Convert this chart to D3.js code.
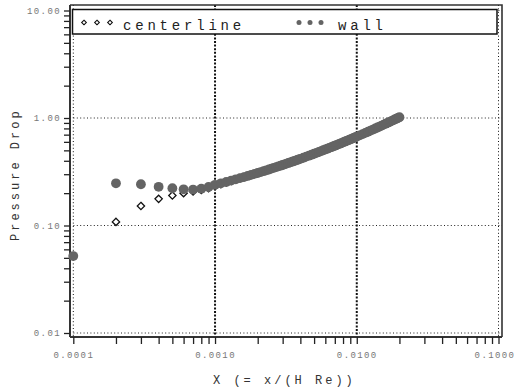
<!DOCTYPE html>
<html>
<head>
<meta charset="utf-8">
<script src="https://cdn.jsdelivr.net/npm/d3@7"></script>
<style>
  body { margin: 0; background: #fff; }
  svg { display: block; }
</style>
</head>
<body>
<script>
// X = x/(H Re) sample positions
const xs = [
  0.0001, 0.0002, 0.0003, 0.0004, 0.0005, 0.0006, 0.0007, 0.0008, 0.0009, 0.0010,
  0.0011, 0.0012, 0.0013, 0.0014, 0.0015, 0.0016, 0.0017, 0.0018, 0.0019, 0.0020,
  0.0021, 0.0022, 0.0023, 0.0024, 0.0025, 0.0026, 0.0027, 0.0028, 0.0029, 0.0030,
  0.0031, 0.0032, 0.0033, 0.0034, 0.0035, 0.0036, 0.0037, 0.0038, 0.0039, 0.0040,
  0.0042, 0.0044, 0.0046, 0.0048, 0.0050, 0.0052, 0.0054, 0.0056, 0.0058, 0.0060,
  0.0062, 0.0064, 0.0066, 0.0068, 0.0070, 0.0072, 0.0074, 0.0076, 0.0078, 0.0080,
  0.0082, 0.0084, 0.0086, 0.0088, 0.0090, 0.0092, 0.0094, 0.0096, 0.0098, 0.0100,
  0.0105, 0.0110, 0.0115, 0.0120, 0.0125, 0.0130, 0.0135, 0.0140, 0.0145, 0.0150,
  0.0155, 0.0160, 0.0165, 0.0170, 0.0175, 0.0180, 0.0185, 0.0190, 0.0195, 0.0200
];

// pressure drop at the wall
const wall = [
  0.052, 0.247, 0.242, 0.229, 0.222, 0.217, 0.216, 0.220, 0.228, 0.239,
  0.247, 0.254, 0.262, 0.269, 0.276, 0.282, 0.289, 0.296, 0.302, 0.308,
  0.314, 0.320, 0.326, 0.332, 0.338, 0.344, 0.349, 0.355, 0.360, 0.366,
  0.371, 0.377, 0.382, 0.387, 0.392, 0.397, 0.402, 0.407, 0.412, 0.417,
  0.427, 0.437, 0.446, 0.456, 0.465, 0.474, 0.483, 0.492, 0.501, 0.510,
  0.518, 0.527, 0.535, 0.544, 0.552, 0.560, 0.569, 0.577, 0.585, 0.593,
  0.601, 0.609, 0.617, 0.625, 0.633, 0.640, 0.648, 0.656, 0.663, 0.671,
  0.690, 0.708, 0.727, 0.745, 0.763, 0.781, 0.799, 0.816, 0.833, 0.851,
  0.868, 0.885, 0.902, 0.918, 0.935, 0.951, 0.968, 0.984, 1.000, 1.017
];

// pressure drop on the centerline (joins the wall curve past ~0.0015)
const centerline = [
  0.052, 0.108, 0.152, 0.177, 0.190, 0.200, 0.207, 0.214, 0.222, 0.232,
  0.242, 0.251, 0.260, 0.268, 0.276, 0.282, 0.289, 0.296, 0.302, 0.308
];

const xTickLabels = ["0.0001", "0.0010", "0.0100", "0.1000"];
const xMajor = [0.0001, 0.001, 0.01, 0.1];
const yTickLabels = ["0.01", "0.10", "1.00", "10.00"];
const yMajor = [0.01, 0.1, 1, 10];

const width = 517, height = 387;
const mono = "'Liberation Mono', 'DejaVu Sans Mono', monospace";

const svg = d3.select("body").append("svg")
  .attr("width", width)
  .attr("height", height);

const x = d3.scaleLog().domain([0.0001, 0.1]).range([73.3, 498.5]);
const y = d3.scaleLog().domain([0.01, 10]).range([333, 10.5]);

const pLeft = 70, pRight = 502, pTop = 5, pBottom = 337;

// gridlines
const grid = svg.append("g");
grid.selectAll("line.h")
  .data(yMajor)
  .join("line")
    .attr("x1", pLeft).attr("x2", pRight)
    .attr("y1", d => y(d)).attr("y2", d => y(d))
    .attr("stroke", "#222")
    .attr("stroke-width", 1)
    .attr("stroke-dasharray", "1,2.4");
grid.selectAll("line.v")
  .data(xMajor)
  .join("line")
    .attr("x1", d => x(d)).attr("x2", d => x(d))
    .attr("y1", pTop).attr("y2", pBottom)
    .attr("stroke", "#111")
    .attr("stroke-width", d => (d === 0.001 || d === 0.01) ? 2 : 1)
    .attr("stroke-dasharray", d => (d === 0.001 || d === 0.01) ? "2,1.6" : "1,2.4");

// frame
svg.append("path")
  .attr("d", `M${pLeft},${pTop}H${pRight}V${pBottom}`)
  .attr("fill", "none")
  .attr("stroke", "#333")
  .attr("stroke-width", 1.6);

// axes
const yAxis = d3.axisLeft(y)
  .tickValues(y.ticks())
  .tickSize(6)
  .tickPadding(3)
  .tickFormat(d => {
    const i = yMajor.findIndex(m => Math.abs(m - d) / m < 1e-6);
    return i >= 0 ? yTickLabels[i] : "";
  });
const gy = svg.append("g")
  .attr("transform", `translate(${pLeft},0)`)
  .call(yAxis);
gy.select(".domain").attr("d", `M0,${pTop}V${pBottom}`).attr("stroke", "#333").attr("stroke-width", 2);

const xAxis = d3.axisBottom(x)
  .tickValues(x.ticks())
  .tickSize(7)
  .tickPadding(8)
  .tickFormat(d => {
    const i = xMajor.findIndex(m => Math.abs(m - d) / m < 1e-6);
    return i >= 0 ? xTickLabels[i] : "";
  });
const gx = svg.append("g")
  .attr("transform", `translate(0,${pBottom})`)
  .call(xAxis);
gx.select(".domain").attr("d", `M${pLeft},0H${pRight}`).attr("stroke", "#333").attr("stroke-width", 2);

[gx, gy].forEach(g => {
  g.selectAll(".tick line").attr("stroke", "#222").attr("stroke-width", 1.3);
  g.selectAll(".tick text")
    .attr("fill", "#777")
    .style("font-family", mono)
    .style("font-size", "9px")
    .style("letter-spacing", "1.4px");
});
// last x label sits pulled in from the window edge, as in the original
gx.selectAll(".tick text").filter(d => Math.abs(d - 0.1) < 1e-9).attr("dx", -4);

// data
const plot = svg.append("g");
const diamond = d3.symbol().type(d3.symbolDiamond2).size(34);

plot.selectAll("path.center")
  .data(centerline.map((v, i) => [xs[i], v]))
  .join("path")
    .attr("class", "center")
    .attr("d", diamond)
    .attr("transform", d => `translate(${x(d[0])},${y(d[1])})`)
    .attr("fill", "#fff")
    .attr("stroke", "#111")
    .attr("stroke-width", 1.3);

plot.selectAll("circle.wall")
  .data(wall.map((v, i) => [xs[i], v]))
  .join("circle")
    .attr("class", "wall")
    .attr("cx", d => x(d[0]))
    .attr("cy", d => y(d[1]))
    .attr("r", 4.9)
    .attr("fill", "#646464");

// legend
const lg = svg.append("g");
lg.append("rect")
  .attr("x", 72.5).attr("y", 9.5)
  .attr("width", 424.5).attr("height", 24.5)
  .attr("fill", "#fff")
  .attr("stroke", "#111")
  .attr("stroke-width", 1.5);

const smallDiamond = d3.symbol().type(d3.symbolDiamond2).size(14);
lg.selectAll("path.ld")
  .data([84, 97, 110])
  .join("path")
    .attr("d", smallDiamond)
    .attr("transform", d => `translate(${d},22.5)`)
    .attr("fill", "#fff")
    .attr("stroke", "#111")
    .attr("stroke-width", 1.1);
lg.selectAll("circle.lw")
  .data([299, 310, 321])
  .join("circle")
    .attr("cx", d => d).attr("cy", 22.5).attr("r", 2.5)
    .attr("fill", "#646464");

lg.append("text")
  .attr("x", 123).attr("y", 30)
  .text("centerline");
lg.append("text")
  .attr("x", 338).attr("y", 30)
  .text("wall");
lg.selectAll("text")
  .attr("fill", "#222")
  .style("font-family", mono)
  .style("font-size", "14px")
  .style("letter-spacing", "3.8px");

// titles
svg.append("text")
  .attr("x", 213).attr("y", 384)
  .text("X (= x/(H Re))")
  .attr("fill", "#333")
  .style("font-family", mono)
  .style("font-size", "12px")
  .style("letter-spacing", "3px");

svg.append("text")
  .attr("transform", "translate(19,241) rotate(-90)")
  .text("Pressure Drop")
  .attr("fill", "#333")
  .style("font-family", mono)
  .style("font-size", "12px")
  .style("letter-spacing", "3px");
</script>
</body>
</html>
